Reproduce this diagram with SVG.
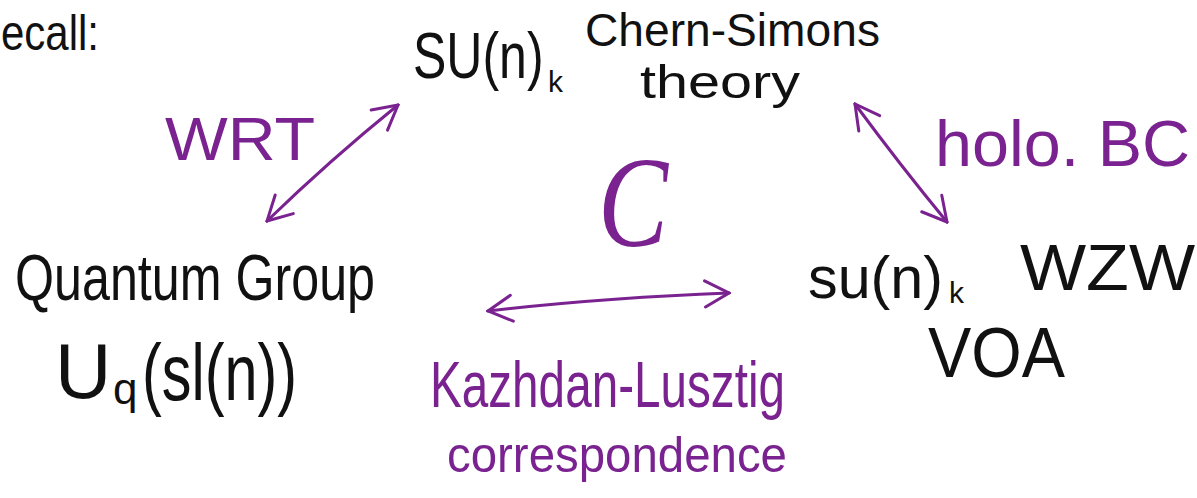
<svg xmlns="http://www.w3.org/2000/svg" width="1197" height="498" viewBox="0 0 1197 498">
<style>
.ink{font-family:"Liberation Sans","DejaVu Sans",sans-serif;fill:#111}
.pur{font-family:"Liberation Sans","DejaVu Sans",sans-serif;fill:#7a2290}
.scr{font-family:"Liberation Serif","DejaVu Serif",serif;font-style:italic;fill:#7a2290}
.arr{fill:none;stroke:#7a2290;stroke-width:3;stroke-linecap:round;stroke-linejoin:round}
</style>
<defs>
<marker id="vb" viewBox="0 0 30 30" refX="28" refY="15" markerWidth="30" markerHeight="30" markerUnits="userSpaceOnUse" orient="auto-start-reverse">
<path d="M4,2 L28,15 L4,28" fill="none" stroke="#7a2290" stroke-width="3" stroke-linecap="round"/>
</marker>
</defs>
<rect width="1197" height="498" fill="#fff"/>
<g id="recall"><text class="ink" x="1" y="50" font-size="50" textLength="98" lengthAdjust="spacingAndGlyphs">ecall:</text></g>
<g id="chern-simons">
<text class="ink" transform="translate(413,78) scale(1,1.3)" x="0" y="0" font-size="50">SU(n)</text>
<text class="ink" x="548" y="92" font-size="30">k</text>
<text class="ink" x="585" y="46" font-size="46" textLength="295" lengthAdjust="spacingAndGlyphs">Chern-Simons</text>
<text class="ink" x="640" y="98" font-size="46" textLength="160" lengthAdjust="spacingAndGlyphs">theory</text>
</g>
<g id="quantum-group">
<text class="ink" x="15" y="300" font-size="64" textLength="360" lengthAdjust="spacingAndGlyphs">Quantum Group</text>
<text class="ink" x="55" y="398" font-size="78">U</text>
<text class="ink" x="113" y="404" font-size="44">q</text>
<text class="ink" x="142" y="400" font-size="80" textLength="155" lengthAdjust="spacingAndGlyphs">(sl(n))</text>
</g>
<g id="wzw">
<text class="ink" x="808" y="298" font-size="60" textLength="135" lengthAdjust="spacingAndGlyphs">su(n)</text>
<text class="ink" x="949" y="303" font-size="30">k</text>
<text class="ink" x="1020" y="290" font-size="64" textLength="175" lengthAdjust="spacingAndGlyphs">WZW</text>
<text class="ink" x="928" y="377" font-size="70" textLength="137" lengthAdjust="spacingAndGlyphs">VOA</text>
</g>
<g id="category">
<text class="scr" x="598" y="246" font-size="130" textLength="70" lengthAdjust="spacingAndGlyphs">C</text>
</g>
<g id="labels">
<text class="pur" x="165" y="160" font-size="62" textLength="150" lengthAdjust="spacingAndGlyphs">WRT</text>
<text class="pur" x="935" y="166" font-size="64" textLength="255" lengthAdjust="spacingAndGlyphs">holo. BC</text>
<text class="pur" x="430" y="407" font-size="64" textLength="355" lengthAdjust="spacingAndGlyphs">Kazhdan-Lusztig</text>
<text class="pur" x="447" y="472" font-size="50" textLength="340" lengthAdjust="spacingAndGlyphs">correspondence</text>
</g>
<g id="connectors">
<path class="arr" d="M267,221 Q330,160 398,105" marker-start="url(#vb)" marker-end="url(#vb)"/>
<path class="arr" d="M855,104 Q900,165 947,222" marker-start="url(#vb)" marker-end="url(#vb)"/>
<path class="arr" d="M488,311 Q600,298 729,293" marker-start="url(#vb)" marker-end="url(#vb)"/>
</g>
</svg>
